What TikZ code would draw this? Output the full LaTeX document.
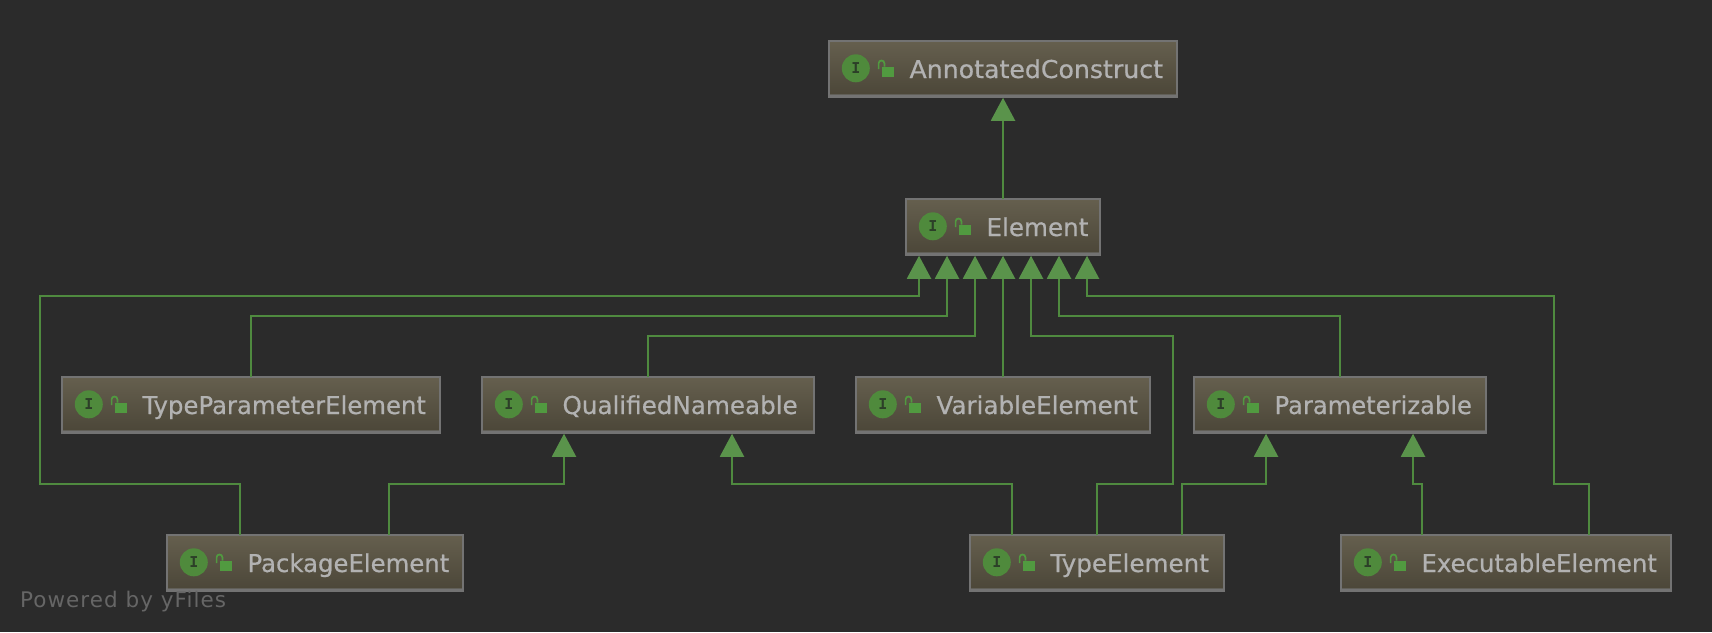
\documentclass[tikz,border=0pt]{standalone}
\usepackage{fontspec}
\usepackage{graphicx}
\setmainfont{DejaVu Sans}
\newfontfamily\labelfont{DejaVu Sans}[FakeBold=0.55]
\newfontfamily\markfont{DejaVu Sans}[LetterSpace=4.8]
\newfontfamily\glyphfont{DejaVu Sans Mono}[BoldFont={DejaVu Sans Mono Bold}]
\usetikzlibrary{arrows.meta,calc}
\definecolor{bgc}{HTML}{2B2B2B}
\definecolor{boxtop}{HTML}{655F4E}
\definecolor{boxbot}{HTML}{4B4638}
\definecolor{boxline}{HTML}{737373}
\definecolor{edgec}{HTML}{4F8A3F}
\definecolor{tipc}{HTML}{5A934B}
\definecolor{iconc}{HTML}{4F8A3C}
\definecolor{lockc}{HTML}{519A40}
\definecolor{glyphc}{HTML}{2C3F28}
\definecolor{textc}{HTML}{B2B2B2}
\definecolor{markc}{HTML}{666666}
\tikzset{
  x=1pt,y=-1pt,
  ifacebox/.style={draw=boxline,line width=2.4pt,top color=boxtop,bottom color=boxbot,outer sep=0pt,inner sep=0pt,minimum height=55.3pt},
  ifacetext/.style={anchor=base west,inner sep=0pt,outer sep=0pt,text=textc,font=\labelfont\fontsize{24.6}{28}\selectfont},
  ifaceicon/.style={circle,fill=iconc,inner sep=0pt,minimum size=28pt,text=glyphc,font=\glyphfont\bfseries\fontsize{15}{15}\selectfont},
  inherit/.style={draw=edgec,line width=2pt,-{Triangle[length=23pt,width=24pt,color=tipc]},shorten >=1.2pt}
}
\newcommand{\ifacenode}[6][1]{%
  \node[ifacebox,minimum width={#4-#3-2.4pt}] (#2) at ({(#3+#4)/2},{#5+28.9}) {};
  \draw[boxline!55!boxbot,line width=1.4pt] ({#3+2},{#5+54.6}) -- ({#4-2},{#5+54.6});
  \node[ifaceicon] (#2-i) at ({#3+27.8},{#5+28.3}) {I};
  \fill[lockc] ({#3+53.8},{#5+26.6}) rectangle ({#3+65.8},{#5+36.6});
  \draw[lockc,line width=1.7pt] ({#3+50.6},{#5+29}) -- ({#3+50.6},{#5+23.3}) .. controls ({#3+50.6},{#5+19.6}) and ({#3+56.4},{#5+19.6}) .. ({#3+56.4},{#5+23.3}) -- ({#3+56.4},{#5+26.6});
  \node[ifacetext] (#2-t) at ({#3+81.5},{#5+38}) {\scalebox{#1}[1]{#6}};
}
\begin{document}
\begin{tikzpicture}
\useasboundingbox (0,0) rectangle (1712,632);
\fill[bgc] (0,0) rectangle (1712,632);
\ifacenode[1.025]{ac}{828}{1178}{40}{AnnotatedConstruct}
\ifacenode{el}{905}{1101}{198}{Element}
\ifacenode[0.99]{tp}{61}{441}{376}{TypeParameterElement}
\ifacenode{qn}{481}{815}{376}{QualifiedNameable}
\ifacenode{ve}{855}{1151}{376}{VariableElement}
\ifacenode[0.985]{pa}{1193}{1487}{376}{Parameterizable}
\ifacenode[0.99]{pk}{166}{464}{534}{PackageElement}
\ifacenode{te}{969}{1225}{534}{TypeElement}
\ifacenode[0.99]{ex}{1340}{1672}{534}{ExecutableElement}
% AnnotatedConstruct
\draw[inherit] (el.north) -- (ac.south);
% into Element: anchor offsets from centre x=1003
\draw[inherit] ([xshift=-75pt]pk.north) |- (40,484) |- (919,296) -- ([xshift=-84pt]el.south);
\draw[inherit] (tp.north) |- (947,316) -- ([xshift=-56pt]el.south);
\draw[inherit] (qn.north) |- (975,336) -- ([xshift=-28pt]el.south);
\draw[inherit] (ve.north) -- (el.south);
\draw[inherit] (te.north) |- (1173,484) |- (1031,336) -- ([xshift=28pt]el.south);
\draw[inherit] (pa.north) |- (1059,316) -- ([xshift=56pt]el.south);
\draw[inherit] ([xshift=83pt]ex.north) |- (1554,484) |- (1087,296) -- ([xshift=84pt]el.south);
% into QualifiedNameable (centre 648)
\draw[inherit] ([xshift=74pt]pk.north) |- (564,484) -- ([xshift=-84pt]qn.south);
\draw[inherit] ([xshift=-85pt]te.north) |- (732,484) -- ([xshift=84pt]qn.south);
% into Parameterizable (centre 1340)
\draw[inherit] ([xshift=85pt]te.north) |- (1266,484) -- ([xshift=-74pt]pa.south);
\draw[inherit] ([xshift=-84pt]ex.north) |- (1413,484) -- ([xshift=73pt]pa.south);
\node[anchor=base west,inner sep=0pt,text=markc,font=\markfont\fontsize{21.5}{24}\selectfont] (mark) at (20,607.5) {Powered by yFiles};
\end{tikzpicture}
\end{document}
